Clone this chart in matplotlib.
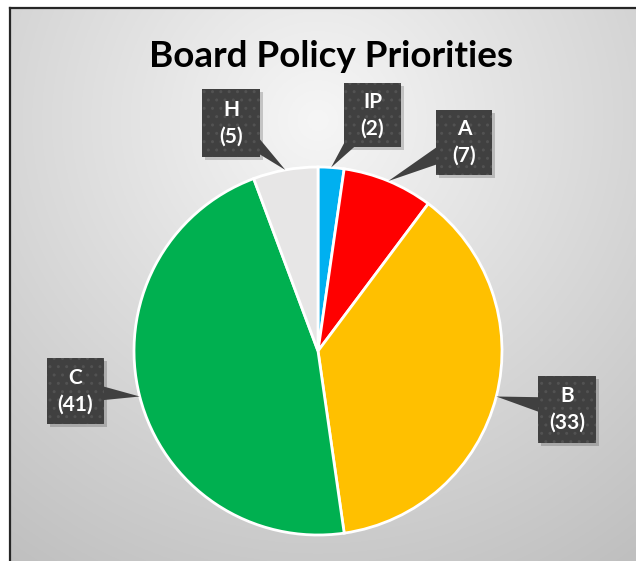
import numpy as np
import matplotlib
matplotlib.use("Agg")
import matplotlib.pyplot as plt
from matplotlib.patches import Rectangle, Polygon

categories = ["IP", "A", "B", "C", "H"]
values = [2, 7, 33, 41, 5]
colors = ["#00B0F0", "#FF0000", "#FFC000", "#00B050", "#E7E6E6"]
title = "Board Policy Priorities"

W, H = 636, 561
fig = plt.figure(figsize=(W / 100, H / 100), dpi=100)
ax = fig.add_axes([0, 0, 1, 1])
ax.set_xlim(0, W)
ax.set_ylim(0, H)
ax.axis("off")

def Y(ypx):
    return H - ypx

# background: white outside frame, radial gradient inside
fig.patch.set_facecolor("white")
x0, ytop = 10, 8
gx = np.linspace(x0, W, 400)
gy = np.linspace(ytop, H, 400)
GX, GY = np.meshgrid(gx, gy)
d = np.sqrt((GX - 318) ** 2 + (GY - 120) ** 2)
t = np.clip(d / 540, 0, 1) ** 1.0
c_in = np.array([0.965, 0.965, 0.965])
c_out = np.array([0.75, 0.75, 0.75])
img = c_in[None, None, :] * (1 - t[..., None]) + c_out[None, None, :] * t[..., None]
ax.imshow(img, extent=[x0, W, Y(H), Y(ytop)], origin="upper", zorder=0, aspect="auto")
ax.plot([x0, x0], [Y(H), Y(ytop)], color="#262626", lw=1.6, zorder=1)
ax.plot([x0, W], [Y(ytop), Y(ytop)], color="#262626", lw=1.6, zorder=1)

ax.text(331, Y(56), title, ha="center", va="center", fontsize=26.5,
        fontweight="bold", family=["Lato", "DejaVu Sans"], color="black", zorder=5)

cx, cy, r = 318, 351, 184
wedges, _ = ax.pie(values, colors=colors, startangle=90, counterclock=False,
                   center=(cx, Y(cy)), radius=r, frame=True,
                   wedgeprops=dict(edgecolor="white", linewidth=2))
for w in wedges:
    w.set_zorder(2)
ax.set_xlim(0, W)
ax.set_ylim(0, H)
ax.set_aspect("equal")
ax.axis("off")

# label boxes (left, top, width, height) in pixels
boxes = {
    "IP": (344, 83, 57, 64),
    "A": (436, 110, 56, 65),
    "B": (538, 376, 58, 67),
    "C": (47, 358, 57, 66),
    "H": (202, 89, 58, 68),
}
box_col = "#404040"
for w, cat, v in zip(wedges, categories, values):
    ang = np.deg2rad((w.theta1 + w.theta2) / 2)
    tx = w.center[0] + w.r * np.cos(ang)
    ty = w.center[1] + w.r * np.sin(ang)
    bl, bt, bw, bh = boxes[cat]
    bcx, bcy = bl + bw / 2, Y(bt + bh / 2)
    dx, dy = tx - bcx, ty - bcy
    L = np.hypot(dx, dy)
    px, py = -dy / L, dx / L
    hw = 12
    # shadow
    ax.add_patch(Rectangle((bl + 3, Y(bt + bh) - 3), bw, bh, facecolor="black",
                           alpha=0.18, lw=0, zorder=3))
    ax.add_patch(Polygon([[bcx + px * hw, bcy + py * hw], [bcx - px * hw, bcy - py * hw],
                          [tx, ty]], closed=True, facecolor=box_col, lw=0, zorder=4))
    ax.add_patch(Rectangle((bl, Y(bt + bh)), bw, bh, facecolor=box_col, lw=0, zorder=4))
    ax.add_patch(Rectangle((bl, Y(bt + bh)), bw, bh, facecolor="none", edgecolor="#525252",
                           hatch="..", lw=0, zorder=4.5))
    ax.text(bcx, bcy, f"{cat}\n({v})", ha="center", va="center", color="white",
            fontsize=15, fontweight="bold", family=["Lato", "DejaVu Sans"],
            linespacing=1.4, zorder=6)

fig.savefig("out.png", dpi=100, facecolor="white")
